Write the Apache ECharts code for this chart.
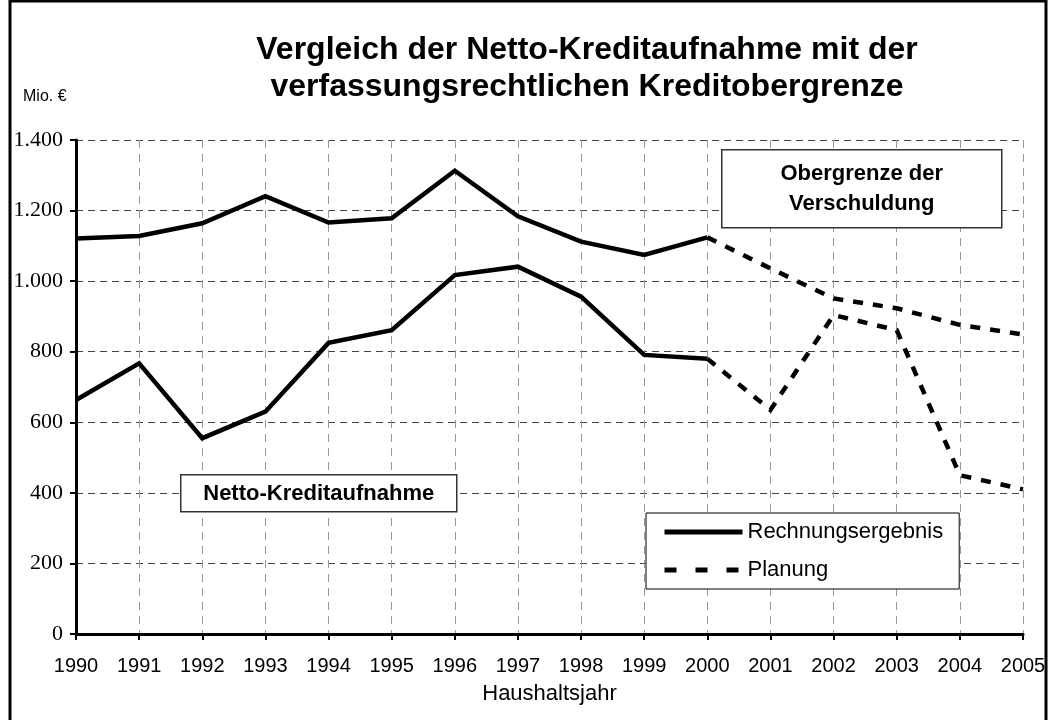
<!DOCTYPE html>
<html>
<head>
<meta charset="utf-8">
<script src="https://cdn.jsdelivr.net/npm/echarts@6/dist/echarts.min.js"></script>
<style>
  html, body { margin: 0; padding: 0; background: #fff; }
  #chart { width: 1049px; height: 720px; }
</style>
</head>
<body>
<div id="chart"></div>
<script>
// Haushaltsjahre
const years = ['1990', '1991', '1992', '1993', '1994', '1995', '1996', '1997',
  '1998', '1999', '2000', '2001', '2002', '2003', '2004', '2005']

// Rechnungsergebnis 1990-2000 (Mio. €)
const obergrenzeIst = [1121, 1128, 1164, 1241, 1166, 1178, 1313, 1184, 1112, 1074, 1124]
const kreditIst = [663, 767, 555, 630, 825, 861, 1017, 1041, 956, 791, 780]

// Planung 2000-2005 (Mio. €)
const obergrenzePlan = [1124, 1036, 951, 923, 876, 849]
const kreditPlan = [780, 635, 904, 861, 450, 410]

const yTicks = ['0', '200', '400', '600', '800', '1.000', '1.200', '1.400']

// Planungswerte beginnen im Jahr 2000
const planOffset = years.indexOf('2000')
function padPlan(arr) {
  return new Array(planOffset).fill(null).concat(arr)
}

const SANS = 'Liberation Sans, Arial, sans-serif'
const SERIF = 'Liberation Serif, Times New Roman, serif'

const solidLine = { color: '#000', width: 4.5, type: 'solid', join: 'miter' }
const dashLine = { color: '#000', width: 4.5, type: [10, 10], join: 'miter' }

const chart = echarts.init(document.getElementById('chart'))

const option = {
  backgroundColor: '#fff',
  animation: false,
  title: {
    text: 'Vergleich der Netto-Kreditaufnahme mit der\nverfassungsrechtlichen Kreditobergrenze',
    left: 582,
    top: 27,
    textAlign: 'center',
    textStyle: {
      fontFamily: SANS,
      fontSize: 32,
      fontWeight: 'bold',
      color: '#000',
      lineHeight: 37
    }
  },
  legend: {
    orient: 'vertical',
    left: 646,
    top: 513,
    padding: [8, 16, 8, 16],
    itemWidth: 78,
    itemHeight: 14,
    itemGap: 16,
    borderColor: '#000',
    borderWidth: 1,
    backgroundColor: '#fff',
    z: 20,
    itemStyle: { opacity: 0 },
    data: [
      { name: 'Rechnungsergebnis', lineStyle: { width: 5, type: 'solid', color: '#000' } },
      { name: 'Planung', lineStyle: { width: 5, type: [12, 19], color: '#000' } }
    ],
    textStyle: { fontFamily: SANS, fontSize: 22, color: '#000' }
  },
  grid: { left: 76, right: 26, top: 140, bottom: 86 },
  xAxis: {
    type: 'category',
    data: years,
    boundaryGap: false,
    name: 'Haushaltsjahr',
    nameLocation: 'middle',
    nameGap: 49,
    nameTextStyle: { fontFamily: SANS, fontSize: 22, color: '#000' },
    axisLine: { lineStyle: { color: '#000', width: 3 } },
    axisTick: { show: true, length: 6, lineStyle: { color: '#000', width: 2 } },
    axisLabel: { fontFamily: SANS, fontSize: 20, color: '#000', margin: 22 },
    splitLine: { show: true, lineStyle: { color: '#999', width: 1, type: [8, 6] } }
  },
  yAxis: {
    type: 'value',
    min: 0,
    max: 1400,
    interval: 200,
    axisLine: { show: true, lineStyle: { color: '#000', width: 3 } },
    axisTick: { show: true, length: 6, lineStyle: { color: '#000', width: 2 } },
    axisLabel: {
      fontFamily: SERIF,
      fontSize: 22,
      color: '#000',
      margin: 13,
      formatter: v => yTicks[v / 200]
    },
    splitLine: { show: true, lineStyle: { color: '#444', width: 1, type: [7, 5] } }
  },
  graphic: [
    {
      type: 'rect',
      silent: true,
      z: 100,
      shape: { x: 10, y: 1, width: 1036, height: 730 },
      style: { fill: null, stroke: '#000', lineWidth: 3 }
    },
    {
      type: 'text',
      left: 23,
      top: 89,
      z: 100,
      style: { text: 'Mio. €', font: '16px ' + SANS, fill: '#000' }
    },
    {
      type: 'group',
      left: 721,
      top: 149,
      z: 100,
      children: [
        {
          type: 'rect',
          z: 100,
          shape: { x: 0, y: 0, width: 280, height: 78 },
          style: { fill: '#fff', stroke: '#333', lineWidth: 1.5 }
        },
        {
          type: 'text',
          z: 101,
          x: 140,
          y: 39,
          style: {
            text: 'Obergrenze der\nVerschuldung',
            font: 'bold 22px ' + SANS,
            fill: '#000',
            align: 'center',
            verticalAlign: 'middle',
            lineHeight: 30
          }
        }
      ]
    },
    {
      type: 'group',
      left: 180,
      top: 474,
      z: 100,
      children: [
        {
          type: 'rect',
          z: 100,
          shape: { x: 0, y: 0, width: 276, height: 37 },
          style: { fill: '#fff', stroke: '#333', lineWidth: 1.5 }
        },
        {
          type: 'text',
          z: 101,
          x: 138,
          y: 19,
          style: {
            text: 'Netto-Kreditaufnahme',
            font: 'bold 22px ' + SANS,
            fill: '#000',
            align: 'center',
            verticalAlign: 'middle'
          }
        }
      ]
    }
  ],
  series: [
    {
      name: 'Rechnungsergebnis',
      type: 'line',
      symbol: 'none',
      lineStyle: solidLine,
      itemStyle: { color: '#000' },
      data: obergrenzeIst
    },
    {
      name: 'Rechnungsergebnis',
      type: 'line',
      symbol: 'none',
      lineStyle: solidLine,
      itemStyle: { color: '#000' },
      data: kreditIst
    },
    {
      name: 'Planung',
      type: 'line',
      symbol: 'none',
      lineStyle: dashLine,
      itemStyle: { color: '#000' },
      data: padPlan(obergrenzePlan)
    },
    {
      name: 'Planung',
      type: 'line',
      symbol: 'none',
      lineStyle: dashLine,
      itemStyle: { color: '#000' },
      data: padPlan(kreditPlan)
    }
  ]
}

chart.setOption(option)
</script>
</body>
</html>
